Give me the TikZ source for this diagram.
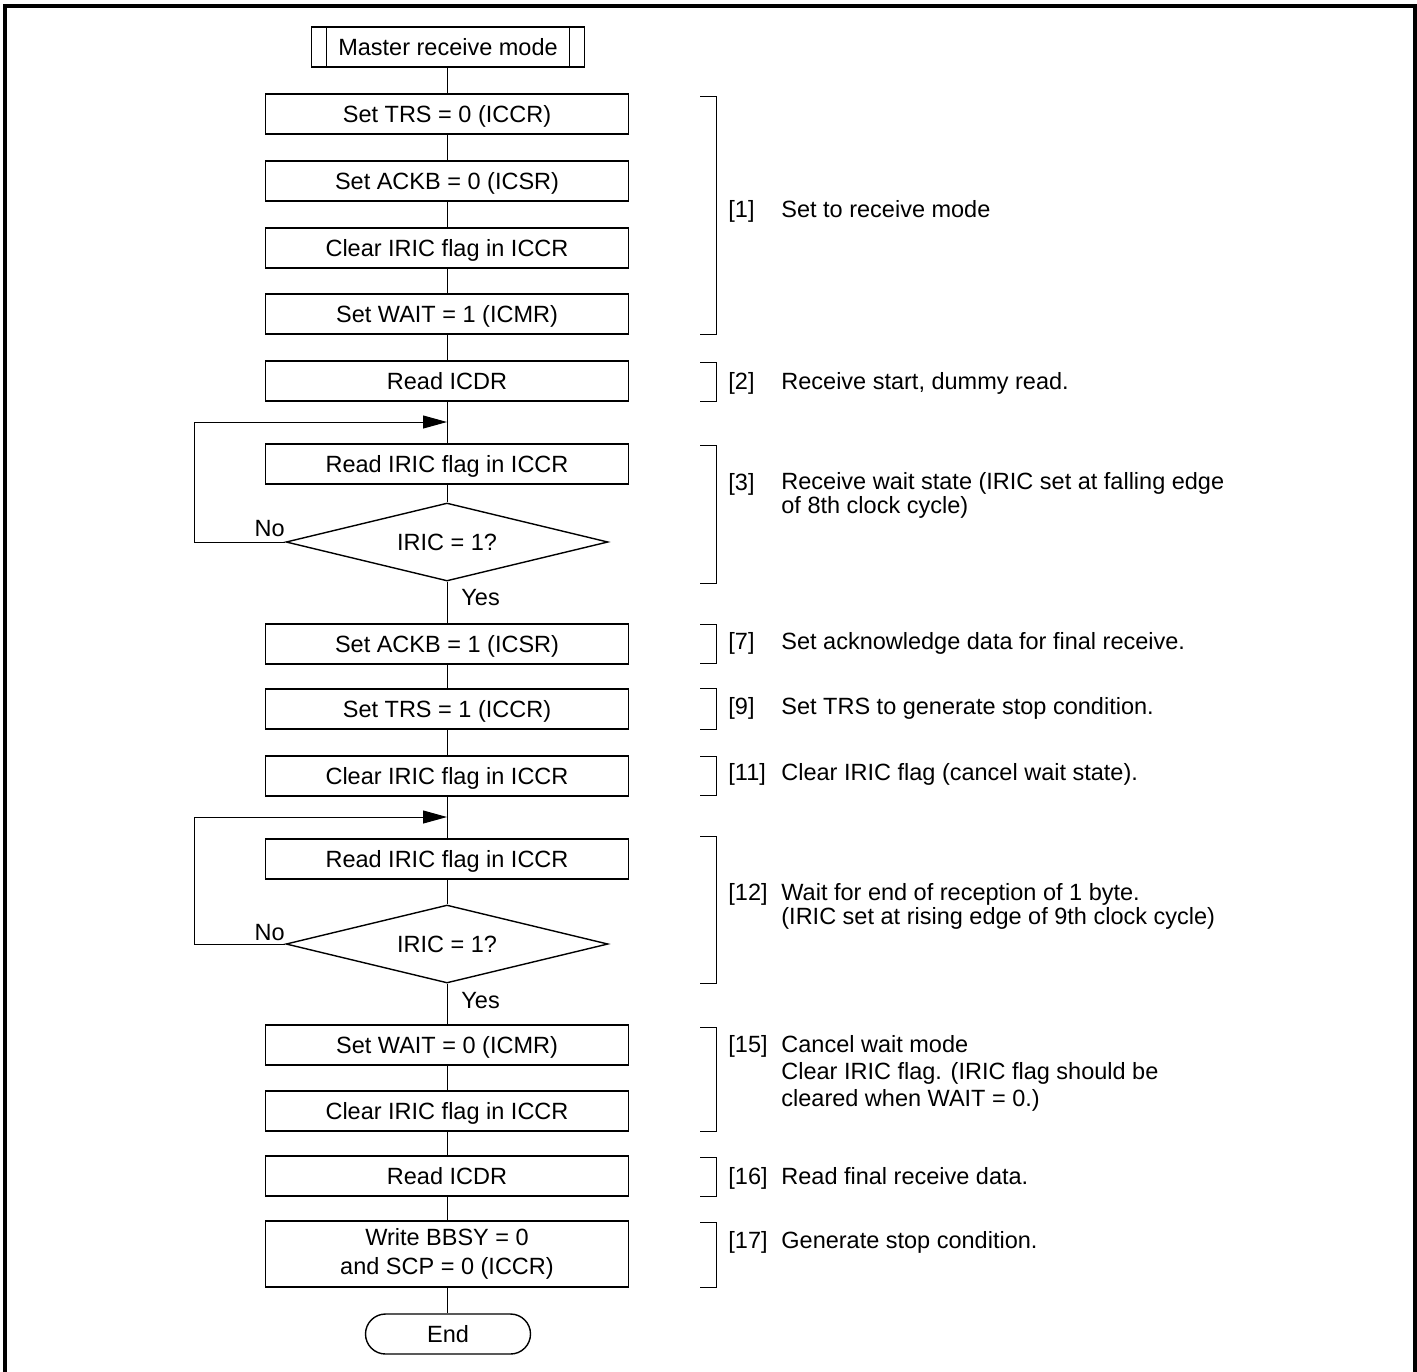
\documentclass[tikz,border=0pt]{standalone}
\usepackage{fontspec}
\setmainfont{Liberation Sans}
\usetikzlibrary{shapes.geometric,arrows.meta}
\begin{document}
\begin{tikzpicture}[x=0.5pt,y=-0.5pt,
  every node/.style={font=\fontsize{11.75pt}{14.5pt}\selectfont, inner sep=0pt},
  proc/.style={draw, line width=0.7pt, minimum width=181.5pt, minimum height=20pt, text height=8.4pt, text depth=0pt},
  startbox/.style={draw, line width=0.7pt, minimum width=136.5pt, minimum height=20pt, text height=8.4pt, text depth=0pt},
  dec/.style={draw, diamond, shape aspect=4.13, line width=0.7pt, minimum width=161pt, minimum height=39pt, text height=8.4pt, text depth=0pt},
  term/.style={draw, line width=0.7pt, rounded corners=10pt, minimum width=82.5pt, minimum height=20pt, text height=8.4pt, text depth=0pt},
  conn/.style={line width=0.5pt},
  brk/.style={line width=0.5pt},
  lbl/.style={anchor=base west},
  desc/.style={anchor=base west, align=left, font=\fontsize{11.75pt}{11.75pt}\selectfont},
  yn/.style={anchor=base west},
  tip/.style={-{Triangle[length=12pt,width=6.5pt]}}
]
\useasboundingbox (0,0) rectangle (1417,1371);
% frame
\draw[line width=2pt] (4.5,1400) -- (4.5,6) -- (1414.5,6) -- (1414.5,1400);

% nodes
\node[startbox] (s) at (448,47) {Master receive mode};
\draw[line width=0.7pt] ([xshift=7.75pt]s.north west) -- ([xshift=7.75pt]s.south west)
                        ([xshift=-7.75pt]s.north east) -- ([xshift=-7.75pt]s.south east);
\node[proc] (b1) at (447,114) {Set TRS = 0 (ICCR)};
\node[proc] (b2) at (447,181) {Set ACKB = 0 (ICSR)};
\node[proc] (b3) at (447,248) {Clear IRIC flag in ICCR};
\node[proc] (b4) at (447,314) {Set WAIT = 1 (ICMR)};
\node[proc] (b5) at (447,381) {Read ICDR};
\coordinate (j1) at (447,422);
\node[proc] (b6) at (447,464) {Read IRIC flag in ICCR};
\node[dec] (d1) at (447,542) {IRIC = 1?};
\node[proc] (b7) at (447,644) {Set ACKB = 1 (ICSR)};
\node[proc] (b8) at (447,709) {Set TRS = 1 (ICCR)};
\node[proc] (b9) at (447,776) {Clear IRIC flag in ICCR};
\coordinate (j2) at (447,817);
\node[proc] (b10) at (447,859) {Read IRIC flag in ICCR};
\node[dec] (d2) at (447,944) {IRIC = 1?};
\node[proc] (b11) at (447,1045) {Set WAIT = 0 (ICMR)};
\node[proc] (b12) at (447,1111) {Clear IRIC flag in ICCR};
\node[proc] (b13) at (447,1176) {Read ICDR};
\node[draw, line width=0.7pt, minimum width=181.5pt, minimum height=33pt, align=center] (b14) at (447,1254) {Write BBSY = 0\\and SCP = 0 (ICCR)};
\node[term] (e) at (448,1334) {End};

% connectors
\draw[conn] (s.south -| b1.north) -- (b1);
\draw[conn] (b1) -- (b2);
\draw[conn] (b2) -- (b3);
\draw[conn] (b3) -- (b4);
\draw[conn] (b4) -- (b5);
\draw[conn] (b5) -- (b6);
\draw[conn] (b6) -- (d1);
\draw[conn] (d1) -- (b7);
\draw[conn] (b7) -- (b8);
\draw[conn] (b8) -- (b9);
\draw[conn] (b9) -- (b10);
\draw[conn] (b10) -- (d2);
\draw[conn] (d2) -- (b11);
\draw[conn] (b11) -- (b12);
\draw[conn] (b12) -- (b13);
\draw[conn] (b13) -- (b14);
\draw[conn] (b14.south) -- (b14.south |- e.north);
\draw[conn,tip] (d1.west) -- ++(-91,0) |- (j1);
\draw[conn,tip] (d2.west) -- ++(-91,0) |- (j2);

% yes / no
\node[anchor=base east] (no1) at (285,536) {No};
\node[yn] (yes1) at (461,605) {Yes};
\node[anchor=base east] (no2) at (285,940) {No};
\node[yn] (yes2) at (461,1008) {Yes};

% brackets
\draw[brk] (700,96) -- (716,96) -- (716,334) -- (700,334);
\draw[brk] (700,362) -- (716,362) -- (716,401) -- (700,401);
\draw[brk] (700,445) -- (716,445) -- (716,583) -- (700,583);
\draw[brk] (700,624) -- (716,624) -- (716,663) -- (700,663);
\draw[brk] (700,688) -- (716,688) -- (716,729) -- (700,729);
\draw[brk] (700,756) -- (716,756) -- (716,795) -- (700,795);
\draw[brk] (700,836) -- (716,836) -- (716,983) -- (700,983);
\draw[brk] (700,1027) -- (716,1027) -- (716,1131) -- (700,1131);
\draw[brk] (700,1157) -- (716,1157) -- (716,1196) -- (700,1196);
\draw[brk] (700,1222) -- (716,1222) -- (716,1287) -- (700,1287);

% annotations
\node[lbl] (n1) at (728,217) {[1]};
\node[lbl] (t1) at (781,217) {Set to receive mode};
\node[lbl] (n2) at (728,389) {[2]};
\node[lbl] (t2) at (781,389) {Receive start, dummy read.};
\node[lbl] (n3) at (728,490) {[3]};
\node[desc] (t3) at (781,513) {Receive wait state (IRIC set at falling edge\\of 8th clock cycle)};
\node[lbl] (n7) at (728,649) {[7]};
\node[lbl] (t7) at (781,649) {Set acknowledge data for final receive.};
\node[lbl] (n9) at (728,714) {[9]};
\node[lbl] (t9) at (781,714) {Set TRS to generate stop condition.};
\node[lbl] (n11) at (728,780) {[11]};
\node[lbl] (t11) at (781,780) {Clear IRIC flag (cancel wait state).};
\node[lbl] (n12) at (728,900) {[12]};
\node[desc, font=\fontsize{11.75pt}{12.25pt}\selectfont] (t12) at (781,924.5) {Wait for end of reception of 1 byte.\\(IRIC set at rising edge of 9th clock cycle)};
\node[lbl] (n15) at (728,1052) {[15]};
\node[desc, font=\fontsize{11.75pt}{13.5pt}\selectfont] (t15) at (781,1106) {Cancel wait mode\\Clear IRIC flag. (IRIC flag should be\\cleared when WAIT = 0.)};
\node[lbl] (n16) at (728,1184) {[16]};
\node[lbl] (t16) at (781,1184) {Read final receive data.};
\node[lbl] (n17) at (728,1248) {[17]};
\node[lbl] (t17) at (781,1248) {Generate stop condition.};
\end{tikzpicture}
\end{document}
